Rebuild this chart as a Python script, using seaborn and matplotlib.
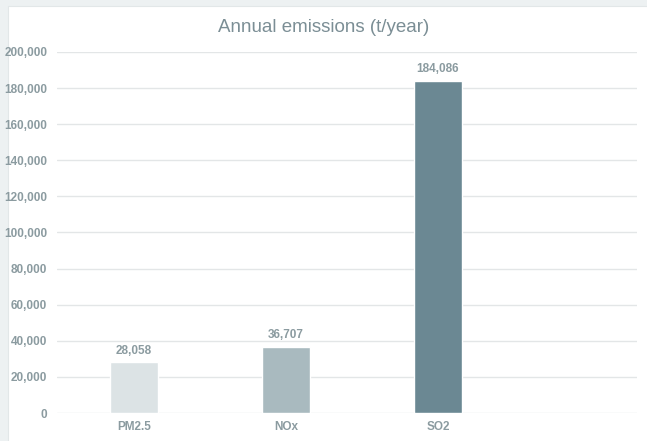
import matplotlib
matplotlib.use("Agg")
import matplotlib.pyplot as plt
from matplotlib.patches import Rectangle
import seaborn as sns
import pandas as pd

pollutants = ["PM2.5", "NOx", "SO2"]
emissions = [28058, 36707, 184086]
bar_colors = ["#dce3e5", "#a9babf", "#6b8893"]
y_ticks = [0, 20000, 40000, 60000, 80000, 100000, 120000, 140000, 160000, 180000, 200000]
title = "Annual emissions (t/year)"

sns.set_theme(style="white")
plt.rcParams["font.family"] = ["Liberation Sans Narrow", "Liberation Sans", "DejaVu Sans"]

text_col = "#8b9ba0"

fig = plt.figure(figsize=(6.47, 4.41), dpi=100)
fig.patch.set_facecolor("#edf1f2")
# white card behind the chart
fig.patches.append(Rectangle((8 / 647, -0.01), 1, 1.01 - 6 / 441, transform=fig.transFigure,
                             facecolor="white", edgecolor="#e2e7e8", lw=0.8, zorder=-5))

ax = fig.add_axes([57 / 647, 1 - 413 / 441, (637 - 57) / 647, (413 - 52) / 441])
ax.set_facecolor("none")
ax.set_zorder(2)

df = pd.DataFrame({"pollutant": pollutants, "value": emissions})
sns.barplot(data=df, x="pollutant", y="value", hue="pollutant", palette=bar_colors,
            saturation=1, legend=False, width=0.316, dodge=False, ax=ax, zorder=3)

for c in ax.containers:
    ax.bar_label(c, labels=[f"{v:,.0f}" for v in c.datavalues], padding=4,
                 color=text_col, fontsize=8.5, fontweight="bold")

ax.set_ylim(0, 200000)
ax.set_xlim(-0.507, 3.31)
ax.set_yticks(y_ticks)
ax.set_yticklabels([f"{v:,}" for v in y_ticks])
ax.yaxis.grid(True, color="#e3e6e7", lw=1.0, zorder=0)
ax.set_axisbelow(True)
for s in ax.spines.values():
    s.set_visible(False)
ax.tick_params(axis="both", length=0, colors=text_col, labelsize=8.5)
ax.tick_params(axis="y", pad=7)
ax.tick_params(axis="x", pad=6)
for lab in ax.get_yticklabels() + ax.get_xticklabels():
    lab.set_fontweight("bold")
ax.set_xlabel("")
ax.set_ylabel("")

fig.text(0.5, 1 - 27 / 441, title, ha="center", va="center", fontsize=13.5, color="#7b8e95")

fig.savefig("out.png", dpi=100, facecolor=fig.get_facecolor())
